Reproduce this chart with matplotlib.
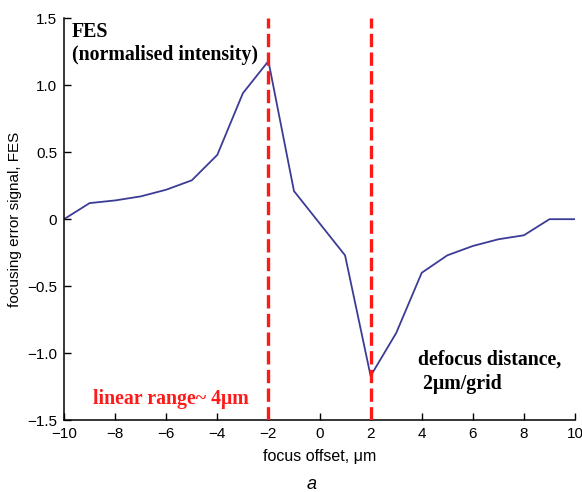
import matplotlib.pyplot as plt

# focusing error signal vs focus offset
offset = [-10, -9, -8, -7, -6, -5, -4, -3, -2, -1, 0, 1, 2, 3, 4, 5, 6, 7, 8, 9, 10]
fes = [0.0, 0.12, 0.14, 0.17, 0.22, 0.29, 0.48, 0.94, 1.18, 0.21, -0.03, -0.27,
       -1.17, -0.85, -0.40, -0.27, -0.20, -0.15, -0.12, 0.0, 0.0]
range_edges = [-2, 2]

xticks = [-10, -8, -6, -4, -2, 0, 2, 4, 6, 8, 10]
yticks = [-1.5, -1.0, -0.5, 0, 0.5, 1.0, 1.5]
ytick_labels = ['\u22121.5', '\u22121.0', '\u22120.5', '0', '0.5', '1.0', '1.5']
xtick_labels = [str(v).replace('-', '\u2212') for v in xticks]

plt.rcParams['font.family'] = ['Liberation Sans', 'DejaVu Sans']

fig = plt.figure(figsize=(5.82, 4.92), dpi=100)
ax = fig.add_axes([0.110, 0.146, 0.878, 0.817])

ax.plot(offset, fes, color='#3c3c96', lw=1.3)
for x in range_edges:
    ax.plot([x, x], [-1.5, 1.5], color='#ff1a1a', lw=2.4, ls=(0, (4, 1.6)), zorder=3)

ax.set_xlim(-10, 10)
ax.set_ylim(-1.5, 1.5)
ax.set_xticks(xticks)
ax.set_xticklabels(xtick_labels)
ax.set_yticks(yticks)
ax.set_yticklabels(ytick_labels)
ax.tick_params(direction='in', length=5, labelsize=11, width=1)
ax.tick_params(axis='y', pad=5)
ax.tick_params(axis='x', pad=5)
for s in ['top', 'right']:
    ax.spines[s].set_visible(False)
for s in ['left', 'bottom']:
    ax.spines[s].set_linewidth(1.1)

ax.set_xlabel('focus offset, \u03bcm', fontsize=11.5)
ax.xaxis.set_label_coords(0.5, -0.072)
ax.set_ylabel('focusing error signal, FES', fontsize=11)
ax.yaxis.set_label_coords(-0.083, 0.5)

serif = ['Liberation Serif', 'DejaVu Serif']
ax.text(-9.7, 1.47, 'FES\n(normalised intensity)', family=serif, fontweight='bold',
        fontsize=14.3, va='top', ha='left', linespacing=1.2)
ax.text(-8.85, -1.34, 'linear range~ 4\u03bcm', family=serif, fontweight='bold',
        fontsize=14.3, color='#ff1a1a', va='center', ha='left')
ax.text(3.85, -1.14, 'defocus distance,\n 2\u03bcm/grid', family=serif, fontweight='bold',
        fontsize=14.3, va='center', ha='left', linespacing=1.25)

fig.text(0.536, 0.016, 'a', fontsize=13, style='italic', ha='center', va='center')

fig.savefig('out.png', dpi=100)
